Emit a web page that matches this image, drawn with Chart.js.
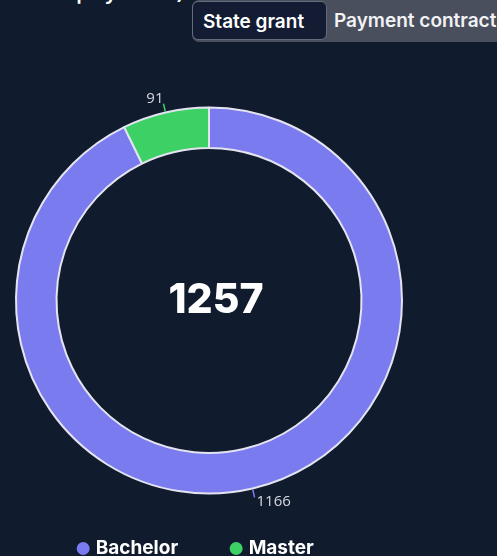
<!DOCTYPE html>
<html>
<head>
<meta charset="utf-8">
<script src="https://cdn.jsdelivr.net/npm/chart.js@4.4.0/dist/chart.umd.min.js"></script>
<style>
  html, body { margin: 0; padding: 0; background: #101b2e; width: 497px; height: 556px; overflow: hidden; font-family: Inter, sans-serif; }
  .title { position: absolute; right: 312px; top: -21px; color: #fff; font-size: 24px; line-height: 24px; font-weight: 500; white-space: nowrap; }
  .toggle { position: absolute; left: 192px; top: 0; width: 320px; height: 42px; background: #4a4f5d; border-radius: 7px; }
  .btn { position: absolute; top: 1px; height: 39px; line-height: 39px; color: #fff; font-size: 19px; font-weight: 600; white-space: nowrap; }
  .btn.active { left: 0; width: 135px; padding-left: 10px; background: #131c32; border: 1px solid #646b7b; border-radius: 6px; box-sizing: border-box; }
  .btn.other { left: 142px; color: #f2f2f5; }
  #wrap { position: absolute; left: 0; top: 0; width: 418px; height: 579px; }
</style>
</head>
<body>
<div class="title">Students by form of payment)</div>
<div class="toggle">
  <div class="btn active">State grant</div>
  <div class="btn other">Payment contract</div>
</div>
<div id="wrap"><canvas id="donut"></canvas></div>
<script>
/*jshint esversion: 6 */
var categories = ["Bachelor", "Master"];
var values = [1166, 91];
var colors = ["#7b7bf0", "#3dd065"];
var totalLabel = "1257";

// center number
var centerText = {
    id: 'centerText',
    afterDraw: function(chart) {
        var arc = chart.getDatasetMeta(0).data[0];
        if (!arc) return;
        var ctx = chart.ctx;
        ctx.save();
        ctx.fillStyle = '#ffffff';
        ctx.font = '800 41px Inter, sans-serif';
        ctx.textAlign = 'center';
        ctx.textBaseline = 'middle';
        ctx.fillText(totalLabel, arc.x + 7, arc.y);
        ctx.restore();
    }
};

// small value labels outside the ring with a short leader line
var outLabels = {
    id: 'outLabels',
    afterDatasetsDraw: function(chart) {
        var ctx = chart.ctx;
        var meta = chart.getDatasetMeta(0);
        ctx.save();
        ctx.font = '15px "Open Sans", sans-serif';
        meta.data.forEach(function(arc, i) {
            var p = arc.getProps(['x', 'y', 'startAngle', 'endAngle', 'outerRadius'], true);
            var mid = (p.startAngle + p.endAngle) / 2;
            var c = Math.cos(mid), s = Math.sin(mid);
            var x1 = p.x + c * (p.outerRadius + 1), y1 = p.y + s * (p.outerRadius + 1);
            var x2 = p.x + c * (p.outerRadius + 9), y2 = p.y + s * (p.outerRadius + 9);
            ctx.strokeStyle = colors[i];
            ctx.lineWidth = 1.5;
            ctx.beginPath();
            ctx.moveTo(x1, y1);
            ctx.lineTo(x2, y2);
            ctx.stroke();
            ctx.fillStyle = '#d6d8de';
            ctx.textAlign = c < 0 ? 'right' : 'left';
            ctx.textBaseline = s < 0 ? 'bottom' : 'top';
            ctx.fillText(String(values[i]), x2 + (c < 0 ? 0 : 2), y2 + (s < 0 ? 3 : -3));
        });
        ctx.restore();
    }
};

// the legend in the original sits a bit left of the ring centre and higher than its padding gives
var legendShift = {
    id: 'legendShift',
    afterLayout: function(chart) {
        var lg = chart.legend;
        lg.left -= 12;
        lg.right -= 12;
        lg.top -= 11;
        lg.bottom -= 11;
    }
};

new Chart(document.getElementById('donut').getContext('2d'), {
    type: 'doughnut',
    data: {
        labels: categories,
        datasets: [{
            data: values,
            backgroundColor: colors,
            borderColor: '#e4e4f0',
            borderWidth: 2,
            hoverOffset: 0
        }]
    },
    options: {
        responsive: true,
        maintainAspectRatio: false,
        animation: false,
        cutout: '79%',
        layout: { padding: { top: 106, left: 15, right: 15, bottom: 0 } },
        plugins: {
            tooltip: { enabled: false },
            legend: {
                position: 'bottom',
                labels: {
                    usePointStyle: true,
                    pointStyle: 'circle',
                    boxWidth: 6,
                    boxHeight: 9.2,
                    padding: 55,
                    color: '#ffffff',
                    font: { family: 'Inter, sans-serif', size: 19, weight: '700' },
                    generateLabels: function(chart) {
                        var items = Chart.overrides.doughnut.plugins.legend.labels.generateLabels(chart);
                        items.forEach(function(it) {
                            it.strokeStyle = it.fillStyle;
                            it.lineWidth = 0;
                        });
                        return items;
                    }
                }
            }
        }
    },
    plugins: [centerText, outLabels, legendShift]
});
</script>
</body>
</html>
